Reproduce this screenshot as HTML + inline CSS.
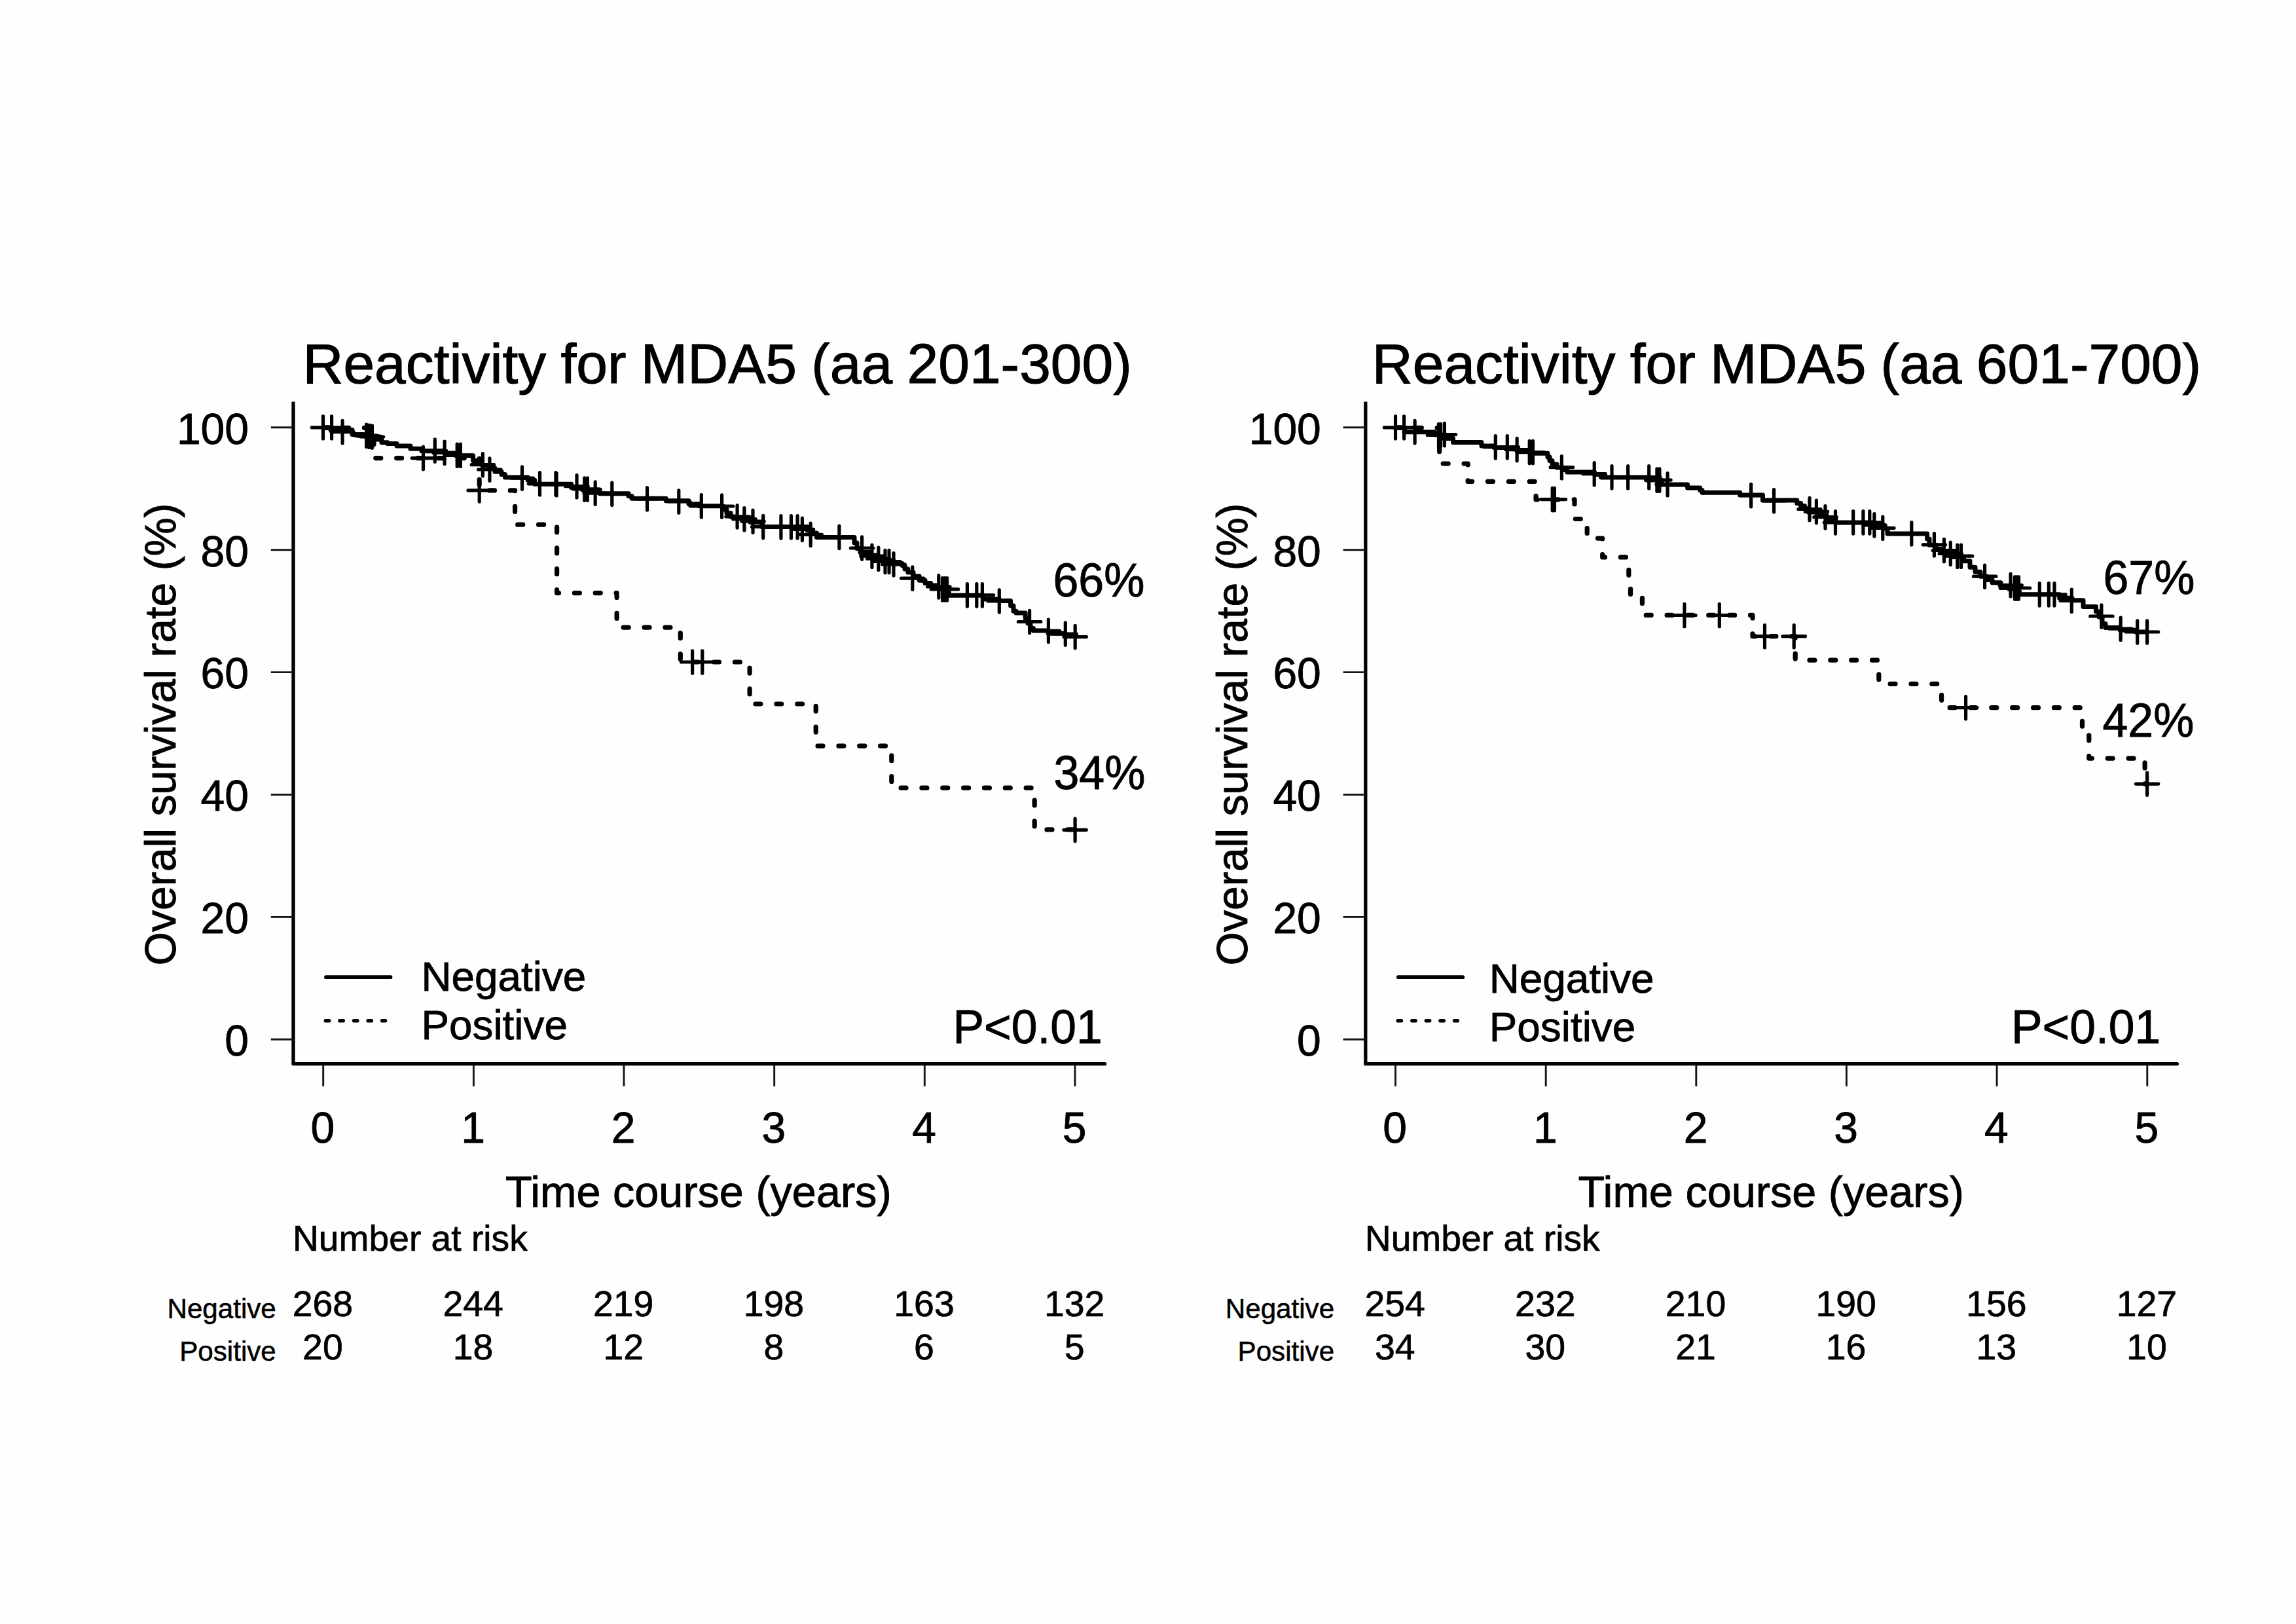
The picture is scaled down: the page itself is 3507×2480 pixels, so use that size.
<!DOCTYPE html>
<html lang="en"><head><meta charset="utf-8"><title>Overall survival by MDA5 reactivity</title>
<style>
html,body{margin:0;padding:0;background:#fefefe;}
body{width:3507px;height:2480px;overflow:hidden;font-family:"Liberation Sans",sans-serif;}
svg{display:block;}
text{font-family:"Liberation Sans",sans-serif;}
</style></head><body>
<svg width="3507" height="2480" viewBox="0 0 3507 2480" font-family="Liberation Sans, sans-serif" fill="#000">
<rect width="3507" height="2480" fill="#fefefe"/>
<path d="M448.0 613.4V1624.7" fill="none" stroke="#000" stroke-width="5.3" stroke-linecap="butt"/>
<path d="M448.0 1624.7H1687.6" fill="none" stroke="#000" stroke-width="5.3" stroke-linecap="round"/>
<path d="M493.7 1626V1659M723.4 1626V1659M953.0 1626V1659M1182.7 1626V1659M1412.3 1626V1659M1642.0 1626V1659M413.8 1587.3H448.0M413.8 1400.4H448.0M413.8 1213.5H448.0M413.8 1026.6H448.0M413.8 839.7H448.0M413.8 652.8H448.0" fill="none" stroke="#151515" stroke-width="2.9" stroke-linecap="butt"/>
<path d="M493.7 653.3H571.0V699.6H732.2V748.9H786.6V801.2H850.6V905.6H942.1V958.2H1039.3V1011.0H1145.1V1075.0H1246.2V1139.1H1361.8V1203.2H1580.2V1266.9H1642.1" fill="none" stroke="#000" stroke-width="7.2" stroke-linecap="round" stroke-linejoin="round" stroke-dasharray="8 23.85" stroke-dashoffset="1"/>
<path d="M493.7 652.8H505.0V656.5H538.0V663.5H557.0V666.0H575.0V671.0H583.0V675.7H592.0V677.5H606.0V681.0H627.0V685.3H644.0V688.8H679.0V692.3H696.5V695.8H722.6V703.6H736.5V710.6H746.0V715.0H756.0V720.2H766.0V724.5H771.4V728.9H806.2V733.2H816.7V739.3H872.6V744.4H890.0V747.9H916.2V753.7H960.0V757.5H965.0V761.3H1017.2V764.8H1052.0V769.7H1067.8V772.8H1104.4V778.0H1110.0V783.5H1116.0V788.9H1122.0V790.6H1146.2V797.6H1163.6V804.5H1233.3V810.0H1240.0V814.0H1247.4V820.4H1305.0V829.0H1309.0V837.5H1314.0V843.5H1327.6V848.0H1340.0V852.5H1352.0V856.7H1365.0V860.5H1378.0V863.6H1382.0V869.0H1386.8V874.0H1395.0V880.0H1404.2V886.3H1413.0V890.5H1421.6V894.1H1430.0V897.5H1439.0V900.2H1445.0V905.0H1449.5V909.3H1501.8V915.0H1526.2V917.6H1543.6V925.0H1548.0V933.3H1552.0V936.0H1566.2V944.0H1570.0V952.0H1574.0V959.4H1578.4V963.0H1601.1V967.3H1627.0V969.4H1642.2" fill="none" stroke="#000" stroke-width="7.0" stroke-linecap="round" stroke-linejoin="round"/>
<path d="M476.3 652.8h34.4M493.5 635.6v34.4M489.4 652.8h34.4M506.6 635.6v34.4M505.9 659.6h34.4M523.1 642.4v34.4M542.5 665.3h34.4M559.7 648.1v34.4M546.9 666.2h34.4M564.1 649.0v34.4M551.2 667.0h34.4M568.4 649.8v34.4M647.1 688.0h34.4M664.3 670.8v34.4M661.9 691.4h34.4M679.1 674.2v34.4M681.0 695.3h34.4M698.2 678.1v34.4M686.2 695.3h34.4M703.4 678.1v34.4M720.2 709.7h34.4M737.4 692.5v34.4M730.7 717.0h34.4M747.9 699.8v34.4M780.3 730.1h34.4M797.5 712.9v34.4M807.3 738.8h34.4M824.5 721.6v34.4M831.7 738.8h34.4M848.9 721.6v34.4M832.8 739.7h34.4M850.0 722.5v34.4M863.8 742.7h34.4M881.0 725.5v34.4M875.5 747.0h34.4M892.7 729.8v34.4M880.2 747.0h34.4M897.4 729.8v34.4M892.0 753.1h34.4M909.2 735.9v34.4M917.6 754.4h34.4M934.8 737.2v34.4M971.3 761.8h34.4M988.5 744.6v34.4M1019.6 766.0h34.4M1036.8 748.8v34.4M1054.1 772.8h34.4M1071.3 755.6v34.4M1085.4 773.0h34.4M1102.6 755.8v34.4M1108.9 788.9h34.4M1126.1 771.7v34.4M1119.7 792.7h34.4M1136.9 775.5v34.4M1132.8 796.2h34.4M1150.0 779.0v34.4M1148.5 804.5h34.4M1165.7 787.3v34.4M1175.7 804.9h34.4M1192.9 787.7v34.4M1191.2 804.7h34.4M1208.4 787.5v34.4M1200.9 804.7h34.4M1218.1 787.5v34.4M1208.2 808.4h34.4M1225.4 791.2v34.4M1221.0 816.4h34.4M1238.2 799.2v34.4M1264.7 820.4h34.4M1281.9 803.2v34.4M1299.4 837.0h34.4M1316.6 819.8v34.4M1314.7 849.2h34.4M1331.9 832.0v34.4M1324.6 853.2h34.4M1341.8 836.0v34.4M1334.8 857.5h34.4M1352.0 840.3v34.4M1340.8 857.5h34.4M1358.0 840.3v34.4M1347.8 861.9h34.4M1365.0 844.7v34.4M1376.6 883.1h34.4M1393.8 865.9v34.4M1416.6 895.9h34.4M1433.8 878.7v34.4M1422.3 899.9h34.4M1439.5 882.7v34.4M1425.8 899.9h34.4M1443.0 882.7v34.4M1429.3 899.9h34.4M1446.5 882.7v34.4M1460.2 908.9h34.4M1477.4 891.7v34.4M1474.6 908.9h34.4M1491.8 891.7v34.4M1483.2 908.9h34.4M1500.4 891.7v34.4M1509.1 918.0h34.4M1526.3 900.8v34.4M1555.4 949.5h34.4M1572.6 932.3v34.4M1584.2 963.4h34.4M1601.4 946.2v34.4M1610.1 968.0h34.4M1627.3 950.8v34.4M1625.0 972.6h34.4M1642.2 955.4v34.4M629.3 699.6h34.4M646.5 682.4v34.4M715.0 748.9h34.4M732.2 731.7v34.4M1040.4 1011.0h34.4M1057.6 993.8v34.4M1055.6 1011.0h34.4M1072.8 993.8v34.4M1624.9 1267.3h34.4M1642.1 1250.1v34.4" fill="none" stroke="#000" stroke-width="5.2" stroke-linecap="round"/>
<path d="M2085.8 613.4V1624.7" fill="none" stroke="#000" stroke-width="5.3" stroke-linecap="butt"/>
<path d="M2085.8 1624.7H3325.4" fill="none" stroke="#000" stroke-width="5.3" stroke-linecap="round"/>
<path d="M2131.5 1626V1659M2361.2 1626V1659M2590.8 1626V1659M2820.4 1626V1659M3050.1 1626V1659M3279.8 1626V1659M2051.6 1587.3H2085.8M2051.6 1400.4H2085.8M2051.6 1213.5H2085.8M2051.6 1026.6H2085.8M2051.6 839.7H2085.8M2051.6 652.8H2085.8" fill="none" stroke="#151515" stroke-width="2.9" stroke-linecap="butt"/>
<path d="M2131.5 653.3H2198.6V708.0H2242.1V735.3H2346.0V762.8H2405.0V792.5H2424.2V822.1H2447.7V850.9H2487.8V880.6H2490.5V910.2H2508.4V939.4H2677.0V971.7H2742.2V1008.2H2869.8V1044.3H2965.6V1080.7H3180.5V1116.8H3190.8V1158.1H3276.1V1197.1H3279.6" fill="none" stroke="#000" stroke-width="7.2" stroke-linecap="round" stroke-linejoin="round" stroke-dasharray="8 23.85" stroke-dashoffset="0"/>
<path d="M2131.5 652.8H2145.5V659.7H2191.6V664.0H2205.6V669.5H2219.5V675.4H2263.0V681.0H2282.2V683.6H2317.0V688.8H2339.7V692.3H2364.0V698.0H2367.0V703.6H2371.0V708.9H2378.0V713.9H2386.7V717.6H2393.7V721.0H2435.5V724.5H2446.0V728.9H2514.8V733.1H2537.5V740.1H2577.6V745.0H2596.7V748.6H2600.0V752.3H2657.7V756.1H2692.5V764.1H2744.8V768.5H2750.6V772.5H2756.4V776.7H2762.2V781.9H2776.0V787.1H2790.0V794.1H2804.0V797.9H2863.0V801.8H2877.4V807.0H2883.0V814.9H2943.6V823.0H2947.0V832.3H2957.0V838.4H2964.5V843.6H2982.0V850.6H2999.4V856.7H3009.0V866.3H3017.0V873.2H3025.0V880.2H3035.0V885.4H3043.0V889.8H3056.0V897.6H3069.0V899.4H3082.0V903.5H3084.7V907.7H3145.7V913.3H3164.9V916.8H3182.0V926.4H3201.5V934.0H3206.0V942.0H3211.0V952.6H3216.0V958.4H3238.2V962.2H3262.6V965.0H3279.6" fill="none" stroke="#000" stroke-width="7.0" stroke-linecap="round" stroke-linejoin="round"/>
<path d="M2114.3 652.8h34.4M2131.5 635.6v34.4M2127.4 652.8h34.4M2144.6 635.6v34.4M2143.9 659.6h34.4M2161.1 642.4v34.4M2180.3 664.5h34.4M2197.5 647.3v34.4M2183.3 664.5h34.4M2200.5 647.3v34.4M2189.2 663.6h34.4M2206.4 646.4v34.4M2267.1 682.7h34.4M2284.3 665.5v34.4M2285.1 682.7h34.4M2302.3 665.5v34.4M2299.9 686.6h34.4M2317.1 669.4v34.4M2319.0 690.6h34.4M2336.2 673.4v34.4M2324.2 690.6h34.4M2341.4 673.4v34.4M2368.2 713.7h34.4M2385.4 696.5v34.4M2418.0 723.7h34.4M2435.2 706.5v34.4M2444.8 728.9h34.4M2462.0 711.7v34.4M2469.4 728.9h34.4M2486.6 711.7v34.4M2501.5 728.7h34.4M2518.7 711.5v34.4M2513.7 733.1h34.4M2530.9 715.9v34.4M2517.7 733.1h34.4M2534.9 715.9v34.4M2529.9 739.7h34.4M2547.1 722.5v34.4M2657.4 756.6h34.4M2674.6 739.4v34.4M2692.4 764.8h34.4M2709.6 747.6v34.4M2746.8 777.5h34.4M2764.0 760.3v34.4M2757.2 781.4h34.4M2774.4 764.2v34.4M2770.8 789.7h34.4M2788.0 772.5v34.4M2786.3 797.9h34.4M2803.5 780.7v34.4M2813.5 797.9h34.4M2830.7 780.7v34.4M2828.7 797.9h34.4M2845.9 780.7v34.4M2838.6 797.9h34.4M2855.8 780.7v34.4M2845.7 801.9h34.4M2862.9 784.7v34.4M2858.6 806.3h34.4M2875.8 789.1v34.4M2902.6 814.9h34.4M2919.8 797.7v34.4M2937.2 831.8h34.4M2954.4 814.6v34.4M2952.2 840.5h34.4M2969.4 823.3v34.4M2962.1 845.4h34.4M2979.3 828.2v34.4M2972.6 849.2h34.4M2989.8 832.0v34.4M2978.3 849.2h34.4M2995.5 832.0v34.4M3014.4 880.2h34.4M3031.6 863.0v34.4M3053.9 893.6h34.4M3071.1 876.4v34.4M3060.3 898.0h34.4M3077.5 880.8v34.4M3063.3 898.0h34.4M3080.5 880.8v34.4M3066.3 898.0h34.4M3083.5 880.8v34.4M3098.1 907.9h34.4M3115.3 890.7v34.4M3112.2 907.9h34.4M3129.4 890.7v34.4M3120.8 907.9h34.4M3138.0 890.7v34.4M3147.1 917.3h34.4M3164.3 900.1v34.4M3192.7 941.0h34.4M3209.9 923.8v34.4M3222.0 960.2h34.4M3239.2 943.0v34.4M3247.5 965.0h34.4M3264.7 947.8v34.4M3262.4 965.0h34.4M3279.6 947.8v34.4M2354.0 762.6h34.4M2371.2 745.4v34.4M2357.2 762.6h34.4M2374.4 745.4v34.4M2555.7 939.5h34.4M2572.9 922.3v34.4M2609.1 939.5h34.4M2626.3 922.3v34.4M2678.3 971.7h34.4M2695.5 954.5v34.4M2723.0 971.7h34.4M2740.2 954.5v34.4M2985.4 1080.7h34.4M3002.6 1063.5v34.4M3262.4 1197.1h34.4M3279.6 1179.9v34.4" fill="none" stroke="#000" stroke-width="5.2" stroke-linecap="round"/>
<text x="492.9" y="1744.8" font-size="66" text-anchor="middle" stroke="#000" stroke-width="0.86" >0</text>
<text x="722.6" y="1744.8" font-size="66" text-anchor="middle" stroke="#000" stroke-width="0.86" >1</text>
<text x="952.2" y="1744.8" font-size="66" text-anchor="middle" stroke="#000" stroke-width="0.86" >2</text>
<text x="1181.9" y="1744.8" font-size="66" text-anchor="middle" stroke="#000" stroke-width="0.86" >3</text>
<text x="1411.5" y="1744.8" font-size="66" text-anchor="middle" stroke="#000" stroke-width="0.86" >4</text>
<text x="1641.2" y="1744.8" font-size="66" text-anchor="middle" stroke="#000" stroke-width="0.86" >5</text>
<text x="380.0" y="1612.1" font-size="66" text-anchor="end" stroke="#000" stroke-width="0.86" >0</text>
<text x="380.0" y="1425.2" font-size="66" text-anchor="end" stroke="#000" stroke-width="0.86" >20</text>
<text x="380.0" y="1238.3" font-size="66" text-anchor="end" stroke="#000" stroke-width="0.86" >40</text>
<text x="380.0" y="1051.4" font-size="66" text-anchor="end" stroke="#000" stroke-width="0.86" >60</text>
<text x="380.0" y="864.5" font-size="66" text-anchor="end" stroke="#000" stroke-width="0.86" >80</text>
<text x="380.0" y="677.6" font-size="66" text-anchor="end" stroke="#000" stroke-width="0.86" >100</text>
<text x="772.0" y="1843.3" font-size="66.6" text-anchor="start" stroke="#000" stroke-width="0.87" >Time course (years)</text>
<text transform="translate(268.3 1474.6) rotate(-90) scale(1 1.015)" font-size="66.2" text-anchor="start" stroke="#000" stroke-width="0.85">Overall survival rate (%)</text>
<text x="462.5" y="585.3" font-size="85.75" text-anchor="start" stroke="#000" stroke-width="1.11" word-spacing="-1.55">Reactivity for MDA5 (aa 201-300)</text>
<path d="M498.0 1492.2H596.5" stroke="#000" stroke-width="5.8" stroke-linecap="round" fill="none"/>
<path d="M497.4 1558.7H588.5" stroke="#000" stroke-width="5.6" stroke-linecap="round" fill="none" stroke-dasharray="5.2 16.4"/>
<text x="643.5" y="1512.8" font-size="63.8" text-anchor="start" stroke="#000" stroke-width="0.83" >Negative</text>
<text x="643.5" y="1586.8" font-size="63.8" text-anchor="start" stroke="#000" stroke-width="0.83" >Positive</text>
<text x="1455.5" y="1592.9" font-size="71.4" text-anchor="start" stroke="#000" stroke-width="0.93" >P&lt;0.01</text>
<text transform="translate(1608.4 911.3) scale(1 1.027)" font-size="69.9" text-anchor="start" stroke="#000" stroke-width="0.91" >66%</text>
<text transform="translate(1609.4 1205.2) scale(1 1.027)" font-size="69.9" text-anchor="start" stroke="#000" stroke-width="0.91" >34%</text>
<text x="447.0" y="1909.9" font-size="55.2" text-anchor="start" stroke="#000" stroke-width="0.72" >Number at risk</text>
<text x="421.8" y="2012.5" font-size="42.15" text-anchor="end" stroke="#000" stroke-width="0.55" >Negative</text>
<text x="421.8" y="2077.7" font-size="42.15" text-anchor="end" stroke="#000" stroke-width="0.55" >Positive</text>
<text x="492.9" y="2010.2" font-size="55.4" text-anchor="middle" stroke="#000" stroke-width="0.72" >268</text>
<text x="492.9" y="2076.3" font-size="55.4" text-anchor="middle" stroke="#000" stroke-width="0.72" >20</text>
<text x="722.6" y="2010.2" font-size="55.4" text-anchor="middle" stroke="#000" stroke-width="0.72" >244</text>
<text x="722.6" y="2076.3" font-size="55.4" text-anchor="middle" stroke="#000" stroke-width="0.72" >18</text>
<text x="952.2" y="2010.2" font-size="55.4" text-anchor="middle" stroke="#000" stroke-width="0.72" >219</text>
<text x="952.2" y="2076.3" font-size="55.4" text-anchor="middle" stroke="#000" stroke-width="0.72" >12</text>
<text x="1181.9" y="2010.2" font-size="55.4" text-anchor="middle" stroke="#000" stroke-width="0.72" >198</text>
<text x="1181.9" y="2076.3" font-size="55.4" text-anchor="middle" stroke="#000" stroke-width="0.72" >8</text>
<text x="1411.5" y="2010.2" font-size="55.4" text-anchor="middle" stroke="#000" stroke-width="0.72" >163</text>
<text x="1411.5" y="2076.3" font-size="55.4" text-anchor="middle" stroke="#000" stroke-width="0.72" >6</text>
<text x="1641.2" y="2010.2" font-size="55.4" text-anchor="middle" stroke="#000" stroke-width="0.72" >132</text>
<text x="1641.2" y="2076.3" font-size="55.4" text-anchor="middle" stroke="#000" stroke-width="0.72" >5</text>
<text x="2130.7" y="1744.8" font-size="66" text-anchor="middle" stroke="#000" stroke-width="0.86" >0</text>
<text x="2360.3" y="1744.8" font-size="66" text-anchor="middle" stroke="#000" stroke-width="0.86" >1</text>
<text x="2590.0" y="1744.8" font-size="66" text-anchor="middle" stroke="#000" stroke-width="0.86" >2</text>
<text x="2819.6" y="1744.8" font-size="66" text-anchor="middle" stroke="#000" stroke-width="0.86" >3</text>
<text x="3049.3" y="1744.8" font-size="66" text-anchor="middle" stroke="#000" stroke-width="0.86" >4</text>
<text x="3278.9" y="1744.8" font-size="66" text-anchor="middle" stroke="#000" stroke-width="0.86" >5</text>
<text x="2017.8" y="1612.1" font-size="66" text-anchor="end" stroke="#000" stroke-width="0.86" >0</text>
<text x="2017.8" y="1425.2" font-size="66" text-anchor="end" stroke="#000" stroke-width="0.86" >20</text>
<text x="2017.8" y="1238.3" font-size="66" text-anchor="end" stroke="#000" stroke-width="0.86" >40</text>
<text x="2017.8" y="1051.4" font-size="66" text-anchor="end" stroke="#000" stroke-width="0.86" >60</text>
<text x="2017.8" y="864.5" font-size="66" text-anchor="end" stroke="#000" stroke-width="0.86" >80</text>
<text x="2017.8" y="677.6" font-size="66" text-anchor="end" stroke="#000" stroke-width="0.86" >100</text>
<text x="2410.4" y="1843.3" font-size="66.6" text-anchor="start" stroke="#000" stroke-width="0.87" >Time course (years)</text>
<text transform="translate(1905.3 1474.6) rotate(-90) scale(1 1.015)" font-size="66.2" text-anchor="start" stroke="#000" stroke-width="0.85">Overall survival rate (%)</text>
<text x="2095.8" y="585.3" font-size="85.75" text-anchor="start" stroke="#000" stroke-width="1.11" word-spacing="-1.55">Reactivity for MDA5 (aa 601-700)</text>
<path d="M2135.8 1492.2H2234.3" stroke="#000" stroke-width="5.8" stroke-linecap="round" fill="none"/>
<path d="M2135.2 1558.7H2226.3" stroke="#000" stroke-width="5.6" stroke-linecap="round" fill="none" stroke-dasharray="5.2 16.4"/>
<text x="2274.8" y="1515.9" font-size="63.8" text-anchor="start" stroke="#000" stroke-width="0.83" >Negative</text>
<text x="2274.8" y="1589.7" font-size="63.8" text-anchor="start" stroke="#000" stroke-width="0.83" >Positive</text>
<text x="3072.0" y="1592.9" font-size="71.4" text-anchor="start" stroke="#000" stroke-width="0.93" >P&lt;0.01</text>
<text transform="translate(3212.4 907.4) scale(1 1.027)" font-size="69.9" text-anchor="start" stroke="#000" stroke-width="0.91" >67%</text>
<text transform="translate(3211.4 1125.0) scale(1 1.027)" font-size="69.9" text-anchor="start" stroke="#000" stroke-width="0.91" >42%</text>
<text x="2084.8" y="1909.9" font-size="55.2" text-anchor="start" stroke="#000" stroke-width="0.72" >Number at risk</text>
<text x="2038.1" y="2012.5" font-size="42.15" text-anchor="end" stroke="#000" stroke-width="0.55" >Negative</text>
<text x="2038.1" y="2077.7" font-size="42.15" text-anchor="end" stroke="#000" stroke-width="0.55" >Positive</text>
<text x="2130.7" y="2010.2" font-size="55.4" text-anchor="middle" stroke="#000" stroke-width="0.72" >254</text>
<text x="2130.7" y="2076.3" font-size="55.4" text-anchor="middle" stroke="#000" stroke-width="0.72" >34</text>
<text x="2360.3" y="2010.2" font-size="55.4" text-anchor="middle" stroke="#000" stroke-width="0.72" >232</text>
<text x="2360.3" y="2076.3" font-size="55.4" text-anchor="middle" stroke="#000" stroke-width="0.72" >30</text>
<text x="2590.0" y="2010.2" font-size="55.4" text-anchor="middle" stroke="#000" stroke-width="0.72" >210</text>
<text x="2590.0" y="2076.3" font-size="55.4" text-anchor="middle" stroke="#000" stroke-width="0.72" >21</text>
<text x="2819.6" y="2010.2" font-size="55.4" text-anchor="middle" stroke="#000" stroke-width="0.72" >190</text>
<text x="2819.6" y="2076.3" font-size="55.4" text-anchor="middle" stroke="#000" stroke-width="0.72" >16</text>
<text x="3049.3" y="2010.2" font-size="55.4" text-anchor="middle" stroke="#000" stroke-width="0.72" >156</text>
<text x="3049.3" y="2076.3" font-size="55.4" text-anchor="middle" stroke="#000" stroke-width="0.72" >13</text>
<text x="3278.9" y="2010.2" font-size="55.4" text-anchor="middle" stroke="#000" stroke-width="0.72" >127</text>
<text x="3278.9" y="2076.3" font-size="55.4" text-anchor="middle" stroke="#000" stroke-width="0.72" >10</text>
</svg>
</body></html>
